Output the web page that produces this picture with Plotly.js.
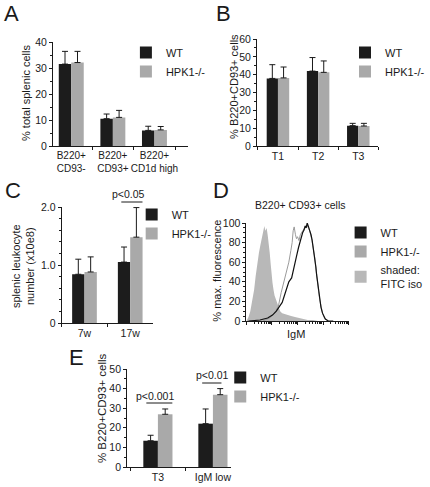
<!DOCTYPE html>
<html><head><meta charset="utf-8">
<script src="https://cdn.plot.ly/plotly-3.0.1.min.js"></script>
<style>html,body{margin:0;padding:0;background:#fff}#chart{width:430px;height:487px}</style>
</head><body><div id="chart"></div>
<script>
// ---------- Panel A ----------
const catsA = ['B220+<br>CD93-', 'B220+<br>CD93+', 'B220+<br>CD1d high'];
const wtA = [31.5, 10.5, 6.0];
const wtErrA = [4.9, 1.8, 1.6];
const koA = [32.1, 11.0, 6.2];
const koErrA = [4.3, 2.7, 1.3];
// ---------- Panel B ----------
const catsB = ['T1', 'T2', 'T3'];
const wtB = [37.9, 42.0, 11.4];
const wtErrB = [7.7, 7.6, 1.3];
const koB = [38.2, 41.3, 11.2];
const koErrB = [6.1, 6.4, 1.5];
// ---------- Panel C ----------
const catsC = ['7w', '17w'];
const wtC = [0.84, 1.05];
const wtErrC = [0.26, 0.26];
const koC = [0.88, 1.48];
const koErrC = [0.26, 0.51];
// ---------- Panel D (histograms, x in log decades of IgM) ----------
const isoX = [0.00,0.08,0.15,0.23,0.30,0.36,0.42,0.49,0.55,0.60,0.66,0.70,0.74,0.79,0.83,0.87,0.91,0.95,0.98,1.02,1.06,1.10,1.17,1.25,1.32,1.40,1.50,1.62,1.75,1.90,2.04,2.20,2.40,2.60,2.80,4.00];
const isoY = [0,4,10,20,32,46,58,70,78,85,90,97,92,95,88,80,70,58,48,39,32,26,21,14,10,8,7,6,5,4,3,2,1,1,0,0];
const wtHistX = [0.08,0.53,0.83,1.02,1.17,1.28,1.40,1.50,1.58,1.66,1.77,1.83,1.89,1.96,2.04,2.11,2.15,2.20,2.26,2.30,2.34,2.38,2.42,2.45,2.49,2.53,2.57,2.60,2.64,2.68,2.72,2.75,2.79,2.83,2.87,2.92,2.98,3.04,3.09,3.15,3.21,3.40];
const wtHistY = [0,1,3,6,10,14,19,27,35,40,44,50,57,66,75,82,86,90,93,97,95,100,97,95,92,88,83,78,72,65,55,47,38,30,21,14,8,4,2,1,0,0];
const koHistX = [0.64,0.91,1.09,1.25,1.36,1.47,1.58,1.66,1.74,1.79,1.83,1.87,1.92,1.96,2.00,2.06,2.11,2.17,2.23,2.30,2.36,2.42,2.45,2.50,2.53,2.57,2.60,2.64,2.68,2.72,2.75,2.79,2.83,2.87,2.92,2.98,3.04,3.09,3.21];
const koHistY = [0,3,8,15,29,40,49,60,72,80,92,96,88,84,86,82,88,91,93,96,98,96,94,90,87,82,77,71,64,54,46,38,30,22,15,8,4,2,0];
// ---------- Panel E ----------
const catsE = ['T3', 'IgM low'];
const wtE = [13.4, 22.1];
const wtErrE = [2.8, 7.5];
const koE = [26.9, 36.9];
const koErrE = [2.7, 3.1];

const seriesNames = ['WT', 'HPK1-/-'];
const isoName = 'shaded:<br>FITC iso';
const panelLetters = ['A', 'B', 'C', 'D', 'E'];

// ---------- styling / layout helpers ----------
const W = 430, H = 487;
const X = v => v / W, Y = v => 1 - v / H;
const FONT = 'Liberation Sans, Arial, Helvetica, sans-serif';
const INK = '#1a1a1a';
const WT_COL = '#1c1c1c', KO_COL = '#a9a9a9', ISO_COL = '#b8b8b8';

function bars(cats, wt, wtErr, ko, koErr, xa, ya, leg, w) {
  const mk = (name, y, err, col, off) => ({
    type: 'bar', name, x: cats, y, xaxis: xa, yaxis: ya, legend: leg,
    width: w, offset: off, marker: {color: col, line: {width: 0}},
    error_y: {type: 'data', symmetric: false, array: err, arrayminus: err.map(() => 0),
              color: INK, thickness: 1, width: 3},
    hoverinfo: 'skip'
  });
  return [mk(seriesNames[0], wt, wtErr, WT_COL, -w), mk(seriesNames[1], ko, koErr, KO_COL, 0)];
}

const traces = [
  ...bars(catsA, wtA, wtErrA, koA, koErrA, 'x', 'y', 'legend', 0.30),
  ...bars(catsB, wtB, wtErrB, koB, koErrB, 'x2', 'y2', 'legend2', 0.28),
  ...bars(catsC, wtC, wtErrC, koC, koErrC, 'x3', 'y3', 'legend3', 0.27),
  {type: 'scatter', mode: 'lines', x: isoX, y: isoY, xaxis: 'x4', yaxis: 'y4', fill: 'tozeroy',
   fillcolor: ISO_COL, line: {width: 0, color: ISO_COL}, showlegend: false, hoverinfo: 'skip'},
  {type: 'scatter', mode: 'lines', x: koHistX, y: koHistY, xaxis: 'x4', yaxis: 'y4',
   line: {width: 1, color: '#9a9a9a'}, showlegend: false, hoverinfo: 'skip'},
  {type: 'scatter', mode: 'lines', x: wtHistX, y: wtHistY, xaxis: 'x4', yaxis: 'y4',
   line: {width: 1.2, color: '#111'}, showlegend: false, hoverinfo: 'skip'},
  // legend keys for panel D
  {type: 'bar', name: seriesNames[0], x: [null], y: [null], xaxis: 'x4', yaxis: 'y4', legend: 'legend4', marker: {color: WT_COL}},
  {type: 'bar', name: seriesNames[1], x: [null], y: [null], xaxis: 'x4', yaxis: 'y4', legend: 'legend4', marker: {color: KO_COL}},
  {type: 'bar', name: isoName, x: [null], y: [null], xaxis: 'x4', yaxis: 'y4', legend: 'legend4', marker: {color: ISO_COL}},
  ...bars(catsE, wtE, wtErrE, koE, koErrE, 'x5', 'y5', 'legend5', 0.265)
];

const tickfont = {family: FONT, size: 10.5, color: INK};
function xCat(l, r, range, anchor, fsize) {
  return {domain: [X(l), X(r)], anchor, type: 'category', range, tickson: 'boundaries', tickangle: 0,
    ticks: 'outside', ticklen: 3, tickwidth: 1, tickcolor: INK, showline: true, linecolor: INK,
    linewidth: 1, showgrid: false, zeroline: false, fixedrange: true,
    tickfont: Object.assign({}, tickfont, fsize ? {size: fsize} : {})};
}
function yLin(top, bot, range, anchor, dtick, minorD, extra) {
  return Object.assign({domain: [Y(bot), Y(top)], anchor, range, dtick, ticks: 'outside',
    ticklen: 3, tickwidth: 1, tickcolor: INK, showline: true, linecolor: INK, linewidth: 1,
    showgrid: false, zeroline: false, tickfont, fixedrange: true,
    minor: {ticks: 'outside', ticklen: 2, tickwidth: 1, tickcolor: INK, dtick: minorD, showgrid: false}}, extra || {});
}
const minorLog = [];
for (let d = 0; d < 4; d++) for (let k = 2; k < 10; k++) minorLog.push(d + Math.log10(k));

const legendBase = (lx, ly) => ({x: X(lx), y: Y(ly), xanchor: 'left', yanchor: 'top',
  bgcolor: 'rgba(0,0,0,0)', font: {family: FONT, size: 11, color: INK}, itemwidth: 30,
  indentation: -6, tracegroupgap: 0, itemclick: false, itemdoubleclick: false});

const ann = (text, x, y, size, extra) => Object.assign({text, x: X(x), y: Y(y), xref: 'paper', yref: 'paper',
  showarrow: false, xanchor: 'center', yanchor: 'middle', font: {family: FONT, size, color: INK}}, extra || {});

const layout = {
  width: W, height: H, margin: {l: 0, r: 0, t: 0, b: 0}, paper_bgcolor: '#fff', plot_bgcolor: 'rgba(0,0,0,0)',
  showlegend: true, barmode: 'group', font: {family: FONT, color: INK},
  xaxis: xCat(55, 195, [-0.44, 2.8], 'y', 10),
  yaxis: yLin(42, 146, [0, 40], 'x', 10, 5),
  xaxis2: xCat(267, 393, [-0.52, 2.5], 'y2'),
  yaxis2: yLin(39, 146, [0, 60], 'x2', 10, 5),
  xaxis3: xCat(64, 159, [-0.5, 1.5], 'y3'),
  yaxis3: yLin(207, 323, [0, 2], 'x3', 1, 0.2, {tickvals: [0, 1, 2], ticktext: ['0', '1.0', '2.0']}),
  xaxis4: {domain: [X(256), X(362)], anchor: 'y4', range: [0, 4], tickvals: [0, 1, 2, 3, 4], showticklabels: false,
    ticks: 'outside', ticklen: 3, tickwidth: 1, tickcolor: INK, showline: true, linecolor: INK, linewidth: 1,
    showgrid: false, zeroline: false, fixedrange: true,
    minor: {ticks: 'outside', ticklen: 2, tickwidth: 1, tickcolor: INK, tickvals: minorLog, showgrid: false}},
  yaxis4: yLin(223, 321, [0, 100], 'x4', 20, 5),
  xaxis5: xCat(132, 240, [-0.56, 1.33], 'y5'),
  yaxis5: yLin(369, 467, [0, 50], 'x5', 10, 5),
  legend: legendBase(137, 38),
  legend2: legendBase(365, 38),
  legend3: legendBase(143, 200),
  legend4: legendBase(360, 218),
  legend5: legendBase(235, 363),
  annotations: [
    ann(panelLetters[0], 12, 14, 22), ann(panelLetters[1], 232, 13, 22), ann(panelLetters[2], 13, 190, 22),
    ann(panelLetters[3], 230, 190, 22), ann(panelLetters[4], 79, 357, 22),
    ann('% total splenic cells', 27, 93, 11, {textangle: -90}),
    ann('% B220+CD93+ cells', 243, 86, 11, {textangle: -90}),
    ann('splenic leukocyte<br>number (x10e8)', 24, 266, 11, {textangle: -90}),
    ann('% max. fluorescence', 225, 271, 11, {textangle: -90}),
    ann('% B220+CD93+ cells', 106, 408, 11.5, {textangle: -90}),
    ann('B220+ CD93+ cells', 312, 205, 10.5),
    ann('IgM', 307, 334, 11),
    ann('p<0.05', 133, 194, 10.5),
    ann('p<0.001', 161, 396, 10.5),
    ann('p<0.01', 221, 375, 10.5)
  ],
  shapes: [
    {type: 'line', xref: 'paper', yref: 'paper', x0: X(126), x1: X(148), y0: Y(202), y1: Y(202), line: {color: INK, width: 1}},
    {type: 'line', xref: 'paper', yref: 'paper', x0: X(152), x1: X(179), y0: Y(403), y1: Y(403), line: {color: INK, width: 1}},
    {type: 'line', xref: 'paper', yref: 'paper', x0: X(210), x1: X(230), y0: Y(383), y1: Y(383), line: {color: INK, width: 1}}
  ]
};

Plotly.newPlot('chart', traces, layout, {staticPlot: true, displayModeBar: false});
</script>
</body></html>
